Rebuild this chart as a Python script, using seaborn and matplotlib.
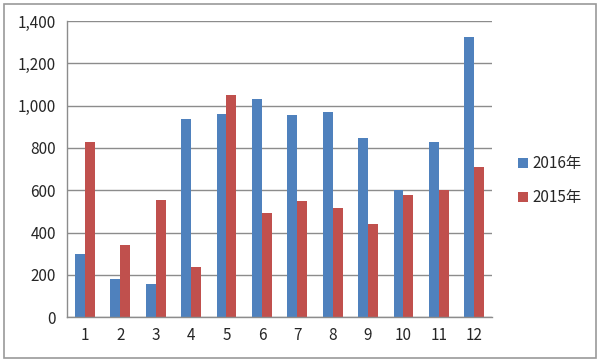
import numpy as np
import pandas as pd
import matplotlib
matplotlib.use("Agg")
import matplotlib.pyplot as plt
from matplotlib.patches import Rectangle
import seaborn as sns

# datos
meses = ['1', '2', '3', '4', '5', '6', '7', '8', '9', '10', '11', '12']
ventas_2016 = [300, 178, 155, 938, 962, 1032, 956, 972, 845, 602, 826, 1324]
ventas_2015 = [826, 343, 552, 237, 1048, 492, 551, 517, 441, 575, 603, 710]
series = ['2016年', '2015年']
colores = ['#4F81BD', '#C0504D']

df = pd.DataFrame({
    'mes': meses * 2,
    'valor': ventas_2016 + ventas_2015,
    'serie': [series[0]] * len(meses) + [series[1]] * len(meses),
})

sns.set_theme(style="white")
plt.rcParams['font.family'] = ['Noto Sans CJK SC', 'DejaVu Sans']

fig = plt.figure(figsize=(6, 3.62), dpi=100)
ax = fig.add_axes([0.112, 0.124, 0.708, 0.818])

sns.barplot(data=df, x='mes', y='valor', hue='serie', hue_order=series,
            palette=colores, order=meses, width=0.56, saturation=1,
            edgecolor='none', ax=ax)

ax.set_ylim(0, 1400)
ax.set_yticks(range(0, 1401, 200))
ax.set_yticklabels([f'{v:,}' for v in range(0, 1401, 200)], fontsize=11)
ax.set_xlim(-0.5, len(meses) - 0.5)
ax.set_xlabel('')
ax.set_ylabel('')
ax.yaxis.grid(True, color='#8c8c8c', linewidth=1)
ax.set_axisbelow(True)
for s in ['top', 'right']:
    ax.spines[s].set_visible(False)
for s in ['left', 'bottom']:
    ax.spines[s].set_color('#8c8c8c')
    ax.spines[s].set_linewidth(1)

# marcas del eje x entre categorias
ax.set_xticks(np.arange(len(meses)))
ax.set_xticklabels(meses, fontsize=11)
ax.tick_params(axis='x', length=0, pad=7)
ax.set_xticks(np.arange(-0.5, len(meses), 1), minor=True)
ax.tick_params(axis='x', which='minor', length=4, color='#8c8c8c', direction='out')
ax.tick_params(axis='y', length=4, color='#8c8c8c', direction='out', pad=4)

ax.legend(loc='center left', bbox_to_anchor=(1.03, 0.46), frameon=False,
          fontsize=11, handlelength=0.6, handleheight=0.6, handletextpad=0.3,
          labelspacing=1.1)

# borde exterior
fig.patches.append(Rectangle((0.006, 0.012), 0.988, 0.978, transform=fig.transFigure,
                             fill=False, edgecolor='#9a9a9a', linewidth=1.2))

fig.savefig('out.png', dpi=100, facecolor='white')
